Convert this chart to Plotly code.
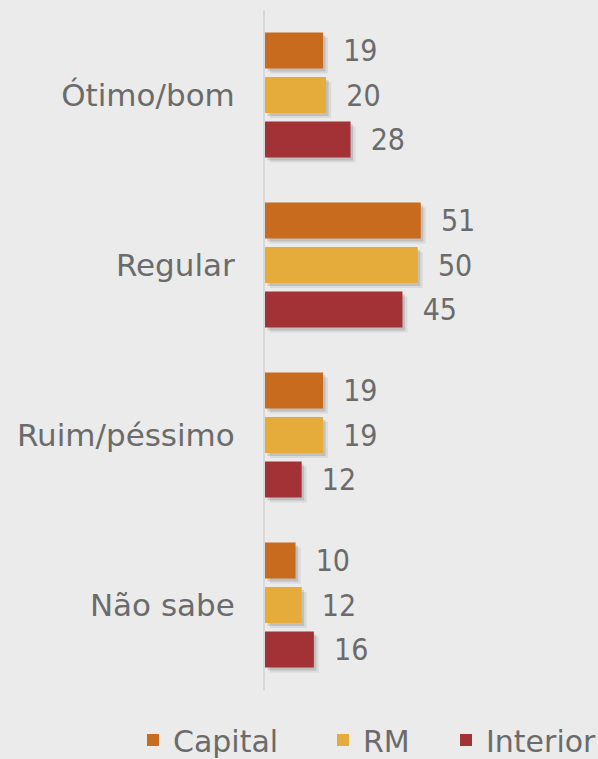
import plotly.graph_objects as go

categorias = ['Ótimo/bom', 'Regular', 'Ruim/péssimo', 'Não sabe']
capital = [19, 51, 19, 10]
rm = [20, 50, 19, 12]
interior = [28, 45, 12, 16]

series = [('Capital', capital, '#C96B1E'),
          ('RM', rm, '#E6AC3B'),
          ('Interior', interior, '#A33237')]

fonte = 'DejaVu Sans, sans-serif'
fonte_num = 'DejaVu Sans Condensed, Liberation Sans, sans-serif'
cinza = '#6B6B6B'
xmax = 109

# sombras (deslocamento em unidades de x / categorias, cor)
sombras = [(5 / 3.05, 5 / 170, 'rgba(0,0,0,0.07)'),
           (2.5 / 3.05, 3 / 170, 'rgba(0,0,0,0.12)')]

fig = go.Figure()

n = 1
for dx, dy, cor_s in sombras:
    sx = 'x' if n == 1 else f'x{n}'
    sy = 'y' if n == 1 else f'y{n}'
    for nome, valores, cor in series:
        fig.add_trace(go.Bar(
            y=categorias, x=valores, orientation='h', xaxis=sx, yaxis=sy,
            marker=dict(color=cor_s, line=dict(width=0)),
            showlegend=False, hoverinfo='skip'
        ))
    eixo_x = dict(range=[-dx, xmax - dx], visible=False, showgrid=False, zeroline=False)
    eixo_y = dict(range=[3.5 - dy, -0.5 - dy], visible=False, showgrid=False,
                  zeroline=False, type='category')
    if n > 1:
        eixo_x['overlaying'] = 'x'
        eixo_y['overlaying'] = 'y'
    fig.update_layout({('xaxis' if n == 1 else f'xaxis{n}'): eixo_x,
                       ('yaxis' if n == 1 else f'yaxis{n}'): eixo_y})
    n += 1

# barras principais
legendas = ['legend', 'legend2', 'legend3']
for (nome, valores, cor), lg in zip(series, legendas):
    fig.add_trace(go.Bar(
        y=categorias, x=valores, name=nome, orientation='h',
        xaxis=f'x{n}', yaxis=f'y{n}', legend=lg,
        marker=dict(color=cor, line=dict(width=0)),
        text=valores, texttemplate='  %{x}', textposition='outside',
        textfont=dict(size=30, color=cinza, family=fonte_num),
        cliponaxis=False
    ))

fig.update_layout({
    f'xaxis{n}': dict(range=[0, xmax], visible=False, showgrid=False,
                      zeroline=False, overlaying='x'),
    f'yaxis{n}': dict(range=[3.5, -0.5], overlaying='y', type='category',
                      showgrid=False, zeroline=False, automargin=False,
                      showline=True, linecolor='#D9D9D9', linewidth=2,
                      ticks='outside', ticklen=22, tickcolor='rgba(0,0,0,0)',
                      tickfont=dict(size=31, color=cinza, family=fonte)),
})

leg_x = [133, 323, 446]
leg = dict(orientation='h', xref='container', yref='container', y=1 - 740 / 759,
           yanchor='middle', xanchor='left', bgcolor='rgba(0,0,0,0)',
           font=dict(size=30, color=cinza, family=fonte))
fig.update_layout(
    legend=dict(leg, x=leg_x[0] / 598),
    legend2=dict(leg, x=leg_x[1] / 598),
    legend3=dict(leg, x=leg_x[2] / 598),
)

fig.update_layout(
    width=598, height=759,
    margin=dict(l=265, r=0, t=10, b=69, autoexpand=False),
    paper_bgcolor='#EBEBEB', plot_bgcolor='#EBEBEB',
    font=dict(family=fonte, color=cinza),
    barmode='group', bargap=0.215, bargroupgap=0.19,
    showlegend=True,
)

fig.write_html('out.html', config={'displayModeBar': False},
               post_script="document.body.style.margin='0';")
